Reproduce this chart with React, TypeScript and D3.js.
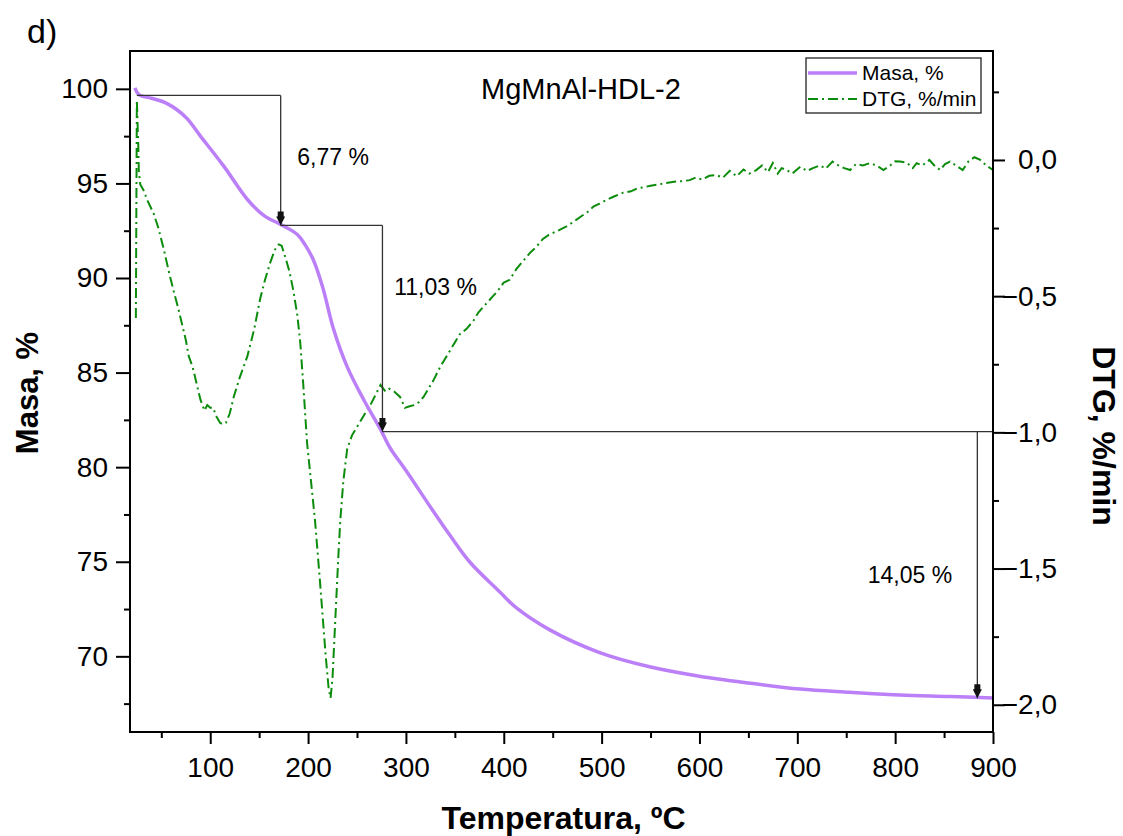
import React, { useRef, useEffect } from "react";
import * as d3 from "d3";

// mass loss curve (TGA)
const massTemp = [23, 27, 40, 56, 75, 90, 114, 138, 155, 172, 189, 197, 205, 215, 226, 240, 257, 274, 284, 299, 325, 345, 365, 396, 412, 447, 498, 549, 600, 652, 703, 754, 805, 856, 900];
const massValues = [100.05, 99.7, 99.5, 99.22, 98.5, 97.5, 95.9, 94.15, 93.3, 92.83, 92.3, 91.75, 91.0, 89.5, 87.3, 85.3, 83.55, 82.0, 81.0, 79.9, 77.9, 76.4, 75.0, 73.4, 72.6, 71.4, 70.2, 69.45, 68.95, 68.58, 68.27, 68.1, 67.95, 67.88, 67.8];

// derivative curve (DTG)
const dtgTemp = [24, 25, 26, 26.5, 27, 28.5, 31.7, 36, 42, 47, 52, 59, 64, 67, 71, 75, 78, 82, 86, 90, 94, 97, 100, 103, 106, 110, 113, 116, 120, 124, 130, 138, 145, 151, 156, 161, 166, 170, 173, 177, 181, 185, 189, 192, 195, 199, 203, 207, 212, 215, 218, 221, 223, 225, 227, 229, 231, 233, 236, 240, 245, 250, 255, 260, 265, 270, 274, 279, 283, 288, 294, 299, 303, 308, 313, 318, 323, 328, 335, 340, 345, 350, 355, 362, 369, 374, 379, 384, 389, 394, 400, 406, 413, 420, 427, 433, 440, 446, 452, 458, 466, 474, 480, 486, 492, 498, 505, 512, 522, 530, 536, 543, 550, 558, 566, 574, 582, 590, 596, 603, 610, 617, 624, 631, 638, 645, 651, 658, 664, 670, 675, 680, 684, 689, 695, 703, 710, 716, 723, 729, 736, 742, 748, 754, 760, 767, 774, 781, 788, 795, 800, 805, 812, 818, 822, 828, 835, 840, 846, 851, 856, 862, 869, 875, 881, 887, 893, 900];
const dtgValues = [-0.58, 0.22, 0.1, 0.05, -0.04, -0.09, -0.11, -0.15, -0.195, -0.25, -0.32, -0.43, -0.5, -0.54, -0.6, -0.66, -0.72, -0.76, -0.82, -0.88, -0.92, -0.9, -0.91, -0.91, -0.94, -0.965, -0.97, -0.965, -0.93, -0.87, -0.8, -0.72, -0.62, -0.51, -0.44, -0.38, -0.33, -0.31, -0.315, -0.36, -0.41, -0.48, -0.57, -0.67, -0.82, -1.04, -1.18, -1.32, -1.54, -1.68, -1.82, -1.94, -1.975, -1.9, -1.75, -1.6, -1.45, -1.32, -1.18, -1.06, -1.01, -0.98, -0.95, -0.92, -0.89, -0.855, -0.826, -0.85, -0.84, -0.85, -0.87, -0.91, -0.905, -0.9, -0.89, -0.87, -0.84, -0.81, -0.76, -0.73, -0.7, -0.67, -0.64, -0.62, -0.59, -0.56, -0.54, -0.52, -0.5, -0.48, -0.45, -0.44, -0.4, -0.37, -0.34, -0.32, -0.29, -0.275, -0.265, -0.255, -0.24, -0.22, -0.205, -0.19, -0.17, -0.16, -0.147, -0.135, -0.12, -0.115, -0.105, -0.1, -0.095, -0.09, -0.085, -0.08, -0.078, -0.074, -0.065, -0.072, -0.058, -0.055, -0.065, -0.04, -0.06, -0.035, -0.05, -0.037, -0.02, -0.045, -0.011, -0.05, -0.03, -0.037, -0.05, -0.025, -0.04, -0.03, -0.02, -0.032, -0.006, -0.02, -0.03, -0.037, -0.015, -0.02, -0.012, -0.02, -0.037, -0.02, -0.005, -0.006, -0.01, -0.03, -0.012, -0.02, 0.0, -0.02, -0.037, -0.015, -0.006, -0.02, -0.037, -0.005, 0.01, 0.0, -0.02, -0.037];

const tempTicks = [100, 200, 300, 400, 500, 600, 700, 800, 900];
const tempMinor = [50, 150, 250, 350, 450, 550, 650, 750, 850];
const massTicks = [70, 75, 80, 85, 90, 95, 100];
const massMinor = [67.5, 72.5, 77.5, 82.5, 87.5, 92.5, 97.5];
const dtgTicks = [0, -0.5, -1, -1.5, -2];
const dtgMinor = [0.25, -0.25, -0.75, -1.25, -1.75];

// step annotations
const stepTemps = [25, 172, 276, 884, 900];
const stepLevels = [99.65, 92.78, 81.88, 67.78];
const stepLabels = ["6,77 %", "11,03 %", "14,05 %"];
const stepLabelTemp = [189, 288, 772];
const stepLabelMass = [96.0, 89.1, 73.9];

const W = 1123;
const H = 836;
const m = { left: 130, right: 993, top: 51, bottom: 732 };
const FONT = "'Liberation Sans', Arial, sans-serif";
const PURPLE = "#bb7ff8";
const GREEN = "#0c8c0c";
const DASH = "10 4 2 4";

const App = () => {
  const svgRef = useRef<SVGSVGElement>(null);

  useEffect(() => {
    const svg = d3.select(svgRef.current);
    svg.selectAll("*").remove();

    const x = d3.scaleLinear().domain([18, 900]).range([m.left, m.right]);
    const yMass = d3.scaleLinear().domain([66, 102]).range([m.bottom, m.top]);
    const yDtg = d3.scaleLinear().domain([-2.1, 0.4]).range([m.bottom, m.top]);

    const defs = svg.append("defs");
    defs
      .append("marker")
      .attr("id", "arrow")
      .attr("viewBox", "0 0 14 9")
      .attr("refX", 14)
      .attr("refY", 4.5)
      .attr("markerWidth", 14)
      .attr("markerHeight", 9)
      .attr("markerUnits", "userSpaceOnUse")
      .attr("orient", "auto")
      .append("path")
      .attr("d", "M0,1.5 L5,1.5 L5,0 L14,4.5 L5,9 L5,7.5 L0,7.5 Z")
      .attr("fill", "#111");

    // curves
    const dtgLine = d3
      .line<number>()
      .x((d, i) => x(dtgTemp[i]))
      .y((d) => yDtg(d));
    svg
      .append("path")
      .attr("d", dtgLine(dtgValues))
      .attr("fill", "none")
      .attr("stroke", GREEN)
      .attr("stroke-width", 2)
      .attr("stroke-dasharray", DASH);

    const massLine = d3
      .line<number>()
      .x((d, i) => x(massTemp[i]))
      .y((d) => yMass(d))
      .curve(d3.curveCatmullRom.alpha(0.5));
    svg
      .append("path")
      .attr("d", massLine(massValues))
      .attr("fill", "none")
      .attr("stroke", PURPLE)
      .attr("stroke-width", 3.5);

    // step annotations
    const ann = svg.append("g").attr("stroke", "#333").attr("stroke-width", 1.3).attr("fill", "none");
    stepLevels.slice(0, 3).forEach((lvl, i) => {
      ann
        .append("line")
        .attr("x1", x(stepTemps[i]))
        .attr("x2", x(i === 2 ? stepTemps[4] : stepTemps[i + 1]))
        .attr("y1", yMass(lvl))
        .attr("y2", yMass(lvl));
      ann
        .append("line")
        .attr("x1", x(stepTemps[i + 1]))
        .attr("x2", x(stepTemps[i + 1]))
        .attr("y1", yMass(lvl))
        .attr("y2", yMass(stepLevels[i + 1]))
        .attr("marker-end", "url(#arrow)");
    });
    stepLabels.forEach((t, i) => {
      svg
        .append("text")
        .attr("x", x(stepLabelTemp[i]))
        .attr("y", yMass(stepLabelMass[i]))
        .attr("font-family", FONT)
        .attr("font-size", 23)
        .text(t);
    });

    // axes
    const styleAxis = (g: any, size: number) => {
      g.select(".domain").remove();
      g.attr("font-size", size).attr("font-family", FONT);
      g.selectAll("line").attr("stroke", "#000").attr("stroke-width", 2);
      g.selectAll("text").attr("fill", "#000");
    };
    const fmtDtg = (d: number) => d3.format(".1f")(d).replace(".", ",");

    const gx = svg.append("g").attr("transform", `translate(0,${m.bottom})`);
    gx.call(d3.axisBottom(x).tickValues(tempTicks).tickSize(12).tickSizeOuter(0).tickPadding(13));
    styleAxis(gx, 28);
    const gxm = svg.append("g").attr("transform", `translate(0,${m.bottom})`);
    gxm.call(d3.axisBottom(x).tickValues(tempMinor).tickSize(6).tickFormat(() => ""));
    styleAxis(gxm, 10);

    const gy = svg.append("g").attr("transform", `translate(${m.left},0)`);
    gy.call(d3.axisLeft(yMass).tickValues(massTicks).tickSize(14).tickSizeOuter(0).tickPadding(8));
    styleAxis(gy, 28);
    const gym = svg.append("g").attr("transform", `translate(${m.left},0)`);
    gym.call(d3.axisLeft(yMass).tickValues(massMinor).tickSize(6).tickFormat(() => ""));
    styleAxis(gym, 10);

    const gr = svg.append("g").attr("transform", `translate(${m.right},0)`);
    gr.call(d3.axisRight(yDtg).tickValues(dtgTicks).tickSize(12).tickSizeOuter(0).tickFormat(fmtDtg as any));
    styleAxis(gr, 28);
    gr.selectAll("text").attr("text-anchor", "end").attr("x", 64);
    const grm = svg.append("g").attr("transform", `translate(${m.right},0)`);
    grm.call(d3.axisRight(yDtg).tickValues(dtgMinor).tickSize(6).tickFormat(() => ""));
    styleAxis(grm, 10);

    // frame
    svg
      .append("rect")
      .attr("x", m.left)
      .attr("y", m.top)
      .attr("width", m.right - m.left)
      .attr("height", m.bottom - m.top)
      .attr("fill", "none")
      .attr("stroke", "#000")
      .attr("stroke-width", 2);

    // titles
    svg
      .append("text")
      .attr("x", (m.left + m.right) / 2 + 2)
      .attr("y", 829)
      .attr("text-anchor", "middle")
      .attr("font-family", FONT)
      .attr("font-weight", "bold")
      .attr("font-size", 32)
      .text("Temperatura, ºC");
    svg
      .append("text")
      .attr("transform", `translate(38,393) rotate(-90)`)
      .attr("text-anchor", "middle")
      .attr("font-family", FONT)
      .attr("font-weight", "bold")
      .attr("font-size", 31)
      .text("Masa, %");
    svg
      .append("text")
      .attr("transform", `translate(1093,436) rotate(90)`)
      .attr("text-anchor", "middle")
      .attr("font-family", FONT)
      .attr("font-weight", "bold")
      .attr("font-size", 32)
      .text("DTG, %/min");
    svg
      .append("text")
      .attr("x", 27)
      .attr("y", 43)
      .attr("font-family", FONT)
      .attr("font-size", 34)
      .text("d)");
    svg
      .append("text")
      .attr("x", 581)
      .attr("y", 99)
      .attr("text-anchor", "middle")
      .attr("font-family", FONT)
      .attr("font-size", 29)
      .text("MgMnAl-HDL-2");

    // legend
    const lg = svg.append("g").attr("font-family", FONT).attr("font-size", 21);
    lg.append("rect")
      .attr("x", 806)
      .attr("y", 58)
      .attr("width", 175)
      .attr("height", 55)
      .attr("fill", "#fff")
      .attr("stroke", "#222")
      .attr("stroke-width", 1.3);
    lg.append("line")
      .attr("x1", 808).attr("x2", 857).attr("y1", 73).attr("y2", 73)
      .attr("stroke", PURPLE).attr("stroke-width", 3.5);
    lg.append("line")
      .attr("x1", 808).attr("x2", 857).attr("y1", 99).attr("y2", 99)
      .attr("stroke", GREEN).attr("stroke-width", 2).attr("stroke-dasharray", DASH);
    lg.append("text").attr("x", 862).attr("y", 80).text("Masa, %");
    lg.append("text").attr("x", 862).attr("y", 106).text("DTG, %/min");
  }, []);

  return (
    <svg
      ref={svgRef}
      width={W}
      height={H}
      style={{ position: "absolute", left: 0, top: 0, background: "#fff" }}
    />
  );
};

export default App;
